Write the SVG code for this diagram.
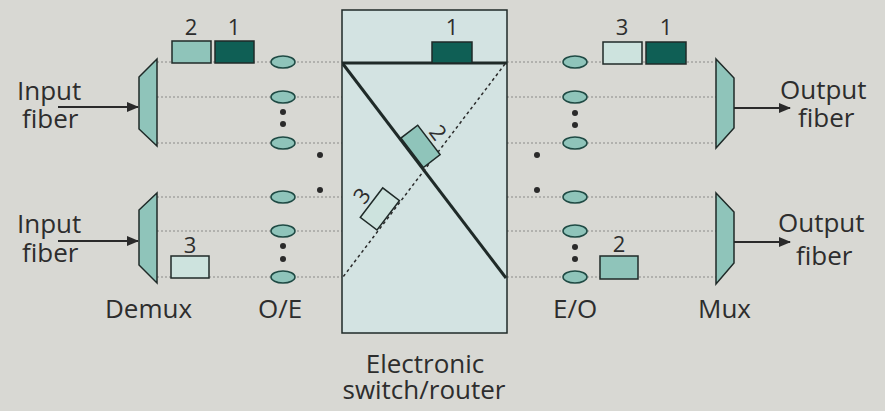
<svg xmlns="http://www.w3.org/2000/svg" width="885" height="411" viewBox="0 0 885 411">
<defs>
<marker id="arr" viewBox="0 0 12 10" refX="11" refY="5" markerWidth="12" markerHeight="10" markerUnits="userSpaceOnUse" orient="auto"><path d="M0,0 L12,5 L0,10 Z" fill="#2a2a2a"/></marker>
</defs>
<style>
text{font-family:"Open Sans","Noto Sans",sans-serif;fill:#2d2d2d}
.lbl{font-size:26px}
.num{font-size:22px;text-anchor:middle}
.fib{stroke:#8a8a88;stroke-width:1;stroke-dasharray:2 2;fill:none}
.dm{fill:#8fc4ba;stroke:#1f2a28;stroke-width:1.5}
.el{fill:#8fc4ba;stroke:#1f4a44;stroke-width:1.5}
.dot{fill:#2a2a2a}
.dark{fill:#0f5f55;stroke:#1f2a28;stroke-width:1.5}
.mid{fill:#8fc4ba;stroke:#1f2a28;stroke-width:1.5}
.lite{fill:#cde3de;stroke:#1f2a28;stroke-width:1.5}
.arw{stroke:#2a2a2a;stroke-width:2;fill:none}
</style>
<rect width="885" height="411" fill="#d8d8d3"/>

<g id="connectors">
<path class="fib" d="M157,62H342M157,97H342M157,143H342M157,197H342M157,231H342M157,277H342"/>
<path class="fib" d="M507,62H716M507,97H716M507,143H716M507,197H716M507,231H716M507,277H716"/>
<line class="arw" x1="58" y1="107" x2="138" y2="107" marker-end="url(#arr)"/>
<line class="arw" x1="58" y1="241" x2="138" y2="241" marker-end="url(#arr)"/>
<line class="arw" x1="734" y1="108" x2="790" y2="108" marker-end="url(#arr)"/>
<line class="arw" x1="734" y1="242" x2="790" y2="242" marker-end="url(#arr)"/>
</g>

<g id="input-top">
<text class="lbl" x="17" y="100">Input</text>
<text class="lbl" x="22" y="128">fiber</text>
</g>
<g id="input-bottom">
<text class="lbl" x="17" y="233">Input</text>
<text class="lbl" x="22" y="262">fiber</text>
</g>

<g id="demux-top"><polygon class="dm" points="139,77 157,59 157,146 139,129"/></g>
<g id="demux-bottom"><polygon class="dm" points="139,210 157,193 157,283 139,265"/></g>
<g id="demux-label"><text class="lbl" x="105" y="318">Demux</text></g>

<g id="oe">
<ellipse class="el" cx="283" cy="62" rx="12" ry="6"/>
<ellipse class="el" cx="283" cy="97" rx="12" ry="6"/>
<ellipse class="el" cx="283" cy="143" rx="12" ry="6"/>
<ellipse class="el" cx="283" cy="197" rx="12" ry="6"/>
<ellipse class="el" cx="283" cy="231" rx="12" ry="6"/>
<ellipse class="el" cx="283" cy="277" rx="12" ry="6"/>
<circle class="dot" cx="283" cy="112" r="3"/>
<circle class="dot" cx="283" cy="124" r="3"/>
<circle class="dot" cx="283" cy="246" r="3"/>
<circle class="dot" cx="283" cy="259" r="3"/>
<circle class="dot" cx="320" cy="155" r="3"/>
<circle class="dot" cx="320" cy="190" r="3"/>
<text class="lbl" x="258" y="318">O/E</text>
</g>

<g id="pkt-left-top">
<rect class="mid" x="172" y="41" width="39" height="22"/>
<rect class="dark" x="215" y="41" width="39" height="22"/>
<text class="num" x="191" y="35">2</text>
<text class="num" x="234" y="35">1</text>
</g>
<g id="pkt-left-bottom">
<rect class="lite" x="171" y="256" width="38" height="22"/>
<text class="num" x="190" y="253">3</text>
</g>

<g id="switch">
<rect x="342" y="10" width="165" height="323" fill="#d3e3e2" stroke="#1f2a28" stroke-width="1.5"/>
<line x1="342" y1="63" x2="507" y2="63" stroke="#1f2a28" stroke-width="3"/>
<line x1="343" y1="64" x2="506" y2="278" stroke="#1f2a28" stroke-width="3"/>
<line x1="505" y1="64" x2="343" y2="277" stroke="#2a2a2a" stroke-width="1.5" stroke-dasharray="3 3"/>
<rect class="dark" x="432" y="42" width="40" height="21"/>
<text class="num" x="452" y="35">1</text>
<g transform="translate(401,138) rotate(52.7)">
<rect class="mid" x="0" y="-21" width="37" height="21"/>
<text class="num" x="18" y="-25">2</text>
</g>
<g transform="translate(377,230) rotate(-52.7)">
<rect class="lite" x="0" y="-21" width="37" height="21"/>
<text class="num" x="18" y="-25">3</text>
</g>
<text class="lbl" x="425" y="373" text-anchor="middle">Electronic</text>
<text class="lbl" x="424" y="399" text-anchor="middle">switch/router</text>
</g>

<g id="eo">
<ellipse class="el" cx="575" cy="62" rx="12" ry="6"/>
<ellipse class="el" cx="575" cy="97" rx="12" ry="6"/>
<ellipse class="el" cx="575" cy="143" rx="12" ry="6"/>
<ellipse class="el" cx="575" cy="197" rx="12" ry="6"/>
<ellipse class="el" cx="575" cy="231" rx="12" ry="6"/>
<ellipse class="el" cx="575" cy="277" rx="12" ry="6"/>
<circle class="dot" cx="575" cy="113" r="3"/>
<circle class="dot" cx="575" cy="125" r="3"/>
<circle class="dot" cx="575" cy="247" r="3"/>
<circle class="dot" cx="575" cy="259" r="3"/>
<circle class="dot" cx="537" cy="155" r="3"/>
<circle class="dot" cx="537" cy="190" r="3"/>
<text class="lbl" x="553" y="318">E/O</text>
</g>

<g id="pkt-right-top">
<rect class="lite" x="603" y="42" width="39" height="22"/>
<rect class="dark" x="646" y="42" width="40" height="22"/>
<text class="num" x="622" y="35">3</text>
<text class="num" x="666" y="35">1</text>
</g>
<g id="pkt-right-bottom">
<rect class="mid" x="600" y="256" width="38" height="23"/>
<text class="num" x="619" y="252">2</text>
</g>

<g id="mux-top"><polygon class="dm" points="716,59 734,78 734,128 716,148"/></g>
<g id="mux-bottom"><polygon class="dm" points="716,193 734,212 734,263 716,284"/></g>
<g id="mux-label"><text class="lbl" x="698" y="318">Mux</text></g>

<g id="output-top">
<text class="lbl" x="780" y="99">Output</text>
<text class="lbl" x="798" y="127">fiber</text>
</g>
<g id="output-bottom">
<text class="lbl" x="778" y="232">Output</text>
<text class="lbl" x="796" y="265">fiber</text>
</g>
</svg>
